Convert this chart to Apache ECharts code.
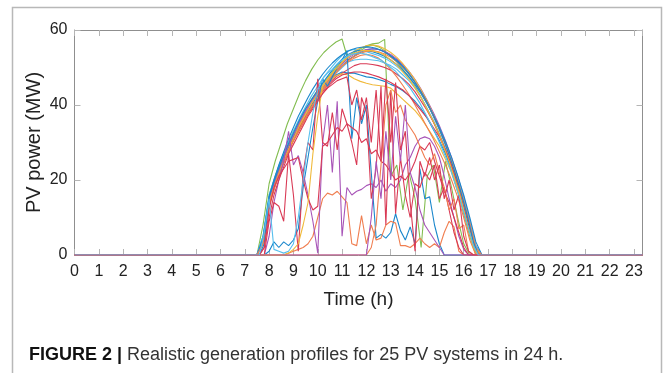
<!DOCTYPE html>
<html><head><meta charset="utf-8">
<script src="https://cdn.jsdelivr.net/npm/echarts@6/dist/echarts.min.js"></script>
<style>html,body{margin:0;padding:0;background:#fff}#c{width:663px;height:373px}</style>
</head><body><div id="c"></div>
<script>
// ---- time grids (h) ----
const hoursSmooth = [0, 7.5, 7.75, 8, 8.25, 8.5, 8.75, 9, 9.25, 9.5, 9.75, 10, 10.25, 10.5, 10.75, 11, 11.25, 11.5, 11.75, 12, 12.25, 12.5, 12.75, 13, 13.25, 13.5, 13.75, 14, 14.25, 14.5, 14.75, 15, 15.25, 15.5, 15.75, 16, 16.25, 16.5, 16.75, 23.35];
const hoursNoisy = [0, 7.6, 7.8, 8.0, 8.2, 8.4, 8.6, 8.8, 9.0, 9.2, 9.4, 9.6, 9.8, 10.0, 10.2, 10.4, 10.6, 10.8, 11.0, 11.2, 11.4, 11.6, 11.8, 12.0, 12.2, 12.4, 12.6, 12.8, 13.0, 13.2, 13.4, 13.6, 13.8, 14.0, 14.2, 14.4, 14.6, 14.8, 15.0, 15.2, 15.4, 15.6, 15.8, 16.0, 16.2, 16.4, 16.6, 23.35];
const hourTicks = [0,1,2,3,4,5,6,7,8,9,10,11,12,13,14,15,16,17,18,19,20,21,22,23];
const powerTicks = [0, 20, 40, 60];

// ---- PV power profiles (MW), smooth grid ----
const pv01 = [0,0,8,19,25,30,35,39,43,46.5, 49.5,52,54,55.5,56.8,57.6,52,53,54.5,55.5, 56,55.5,54.5,53,51.5,49.5,47.5,45,42,39, 35.5,32,27.5,22.5,17,11,5,0,0,0];
const pv02 = [0,0,4,16,21,25.5,29.5,33,36,39, 41.5,44,46,48,50,51.5,53,54,55,55.8, 56.3,56.5,57.5,21,24,12,22,15,2,21, 24,14,25,18,10,3,0,0,0,0];
const pv03 = [0,0,5,15,20,24.5,28.5,32,35,38, 40.5,43,45,47,49,50.5,52,53,54,54.7, 55,54.8,54.2,53.2,52,50.5,48.5,46.2,43.5,40.5, 37,33.5,29.5,25,20,14.5,8.5,2,0,0];
const pv04 = [0,0,3,14,19.5,24,28,31.5,34.5,37.5, 40,42.5,44.5,46.5,48.5,50,51.5,52,52.2,52.2, 52,51.8,51.2,50.5,49.5,48,46.5,44.5,42,39, 36,32.5,28.5,24,19,13.5,7.5,1.5,0,0];
const pv05 = [0,0,4,14.5,19.5,24,28,31.5,34.5,37.5, 40,42.5,44.5,46.5,48,48.8,48.5,48.5,48,47.5, 47.3,46.8,46.3,45.5,44.8,43.8,42.5,41,39,36.5, 33.5,30.5,27,23,18.5,13.5,8,2,0,0];
const pv06 = [0,0,4,14,19,23.5,27.5,31,34,37, 39.5,42,44,46,47.5,48.5,49.5,50.5,51,51, 50.8,50.5,50,49.3,48.2,47,45.5,43.5,41,38.5, 35.5,32,28,23.5,18.5,13,7,1,0,0];
const pv07 = [0,0,3,13,18.5,23,27,30.5,33.5,36.5, 39.5,42,44.5,46.5,47.8,48.3,48,47,46.3,45.8, 45.4,45.2,45,44.5,43,41.5,40,38.5,36.5,34, 31.5,29,25.5,22,17,12,6,0.5,0,0];
const pv08 = [0,0,4,15,20,24.5,28.5,32,35,38, 40.5,43,45,47,49,50.5,51.5,52.5,53.2,53.5, 53.2,52.5,51.2,49.5,47.5,45.2,42.8,40,37,34, 31,27.5,24,20,15.5,10,4,0,0,0];
const pv09 = [0,0,4,15,20,24.5,28.5,32,35.5,38.5, 41,43.5,45.5,47.5,49.5,51,52.5,53.5,54.3,54.8, 55,54.8,54.3,53.5,52.3,50.8,49,46.8,44.2,41.2, 38,34.5,30.5,26,21,15.5,9,2.5,0,0];
const pv10 = [0,0,3.5,13.5,18.5,23,27,30.5,33.5,36.5, 39,41.5,43.5,45.5,47,48,48.5,48.8,48.8,48.5, 48,47.5,46.8,46,45,44,42.5,40.5,38.5,36.5, 34,31.5,28,24,19,13,7,1,0,0];
const pv11 = [0,0,5,16,21,25.5,29.5,33,36.5,39.5, 42.5,45,47.5,49.5,51.5,53.2,54.5,54.8,54.6,54.2, 53.7,53.2,52.5,51.5,50.3,49,47.3,45.3,43,40.3, 37.3,34,30,25.5,20.5,15,9,2.5,0,0];
const pv12 = [0,0,3,14,19,23.5,27.5,31,34.5,37.5, 40.5,43,45.5,47.5,49.5,51.3,53,54.3,55.2,55.8, 56,55.7,55,54,52.7,51,49,46.7,44,41, 37.5,33.5,29.5,25,20,14,8,1.5,0,0];
const pv13 = [0,0,4.5,15.5,20.5,25,29,32.5,36,39, 41.5,44,46.3,48.5,50.5,52.2,53.5,54.3,54.6,54.5, 54.2,53.7,53,52,50.8,49.3,47.5,45.5,43,40.3, 37.3,34,30.2,26,21.2,16,10,3.5,0,0];
const pv14 = [0,0,3,13.5,18.5,23,27,30.5,33.5,36.5, 39.5,42,44.5,46.5,48.5,50.3,51.8,53,53.8,54.3, 54.5,54.2,53.6,52.7,51.5,50,48.2,46,43.5,40.5, 37.2,33.5,29.5,25,20,14.5,8.5,2,0,0];

// ---- PV power profiles (MW), noisy grid ----
const pv15 = [0,0,3,15.5,20,24,27.5,31, 34,37,39.5,42,44.3,46.3,48.2,49.8, 51.2,52.4,53.4,54.2,54.8,55.2,55.4,55.5, 55.4,55.1,54.6,53.9,53,52,50.8,49.4, 47.8,46,44,41.8,39.3,36.6,33.6,30.3, 26.7,22.8,18.6,14,9,3.5,0,0];
const pv16 = [0,0,0,1,3.5,2,3.5,2.5, 4,7,18,26,34,41,47,45, 47.5,50,52,54.5,31,42,35,40, 22,4.5,5.5,4.5,6,11,6.5,4, 7.5,3,23,15,15.5,8,3,0, 0,0,0,0,0,0,0,0];
const pv17 = [0,0,0,0,0,0,0,0.5, 1,1.5,2,3,5,10,15,16.5, 16,17,15.5,14,3,2.5,10.5,3, 8,4,4.5,8,9,8.5,2.5,2.5, 2,3,4.5,3,2,3,2,6, 9,7.5,1,0,0,0,0,0];
const pv18 = [0,0,0,5,14,20,25,33, 24,26.5,22,16,9,0.5,30,40, 22,41,5,18,16,17,17.5,18.5, 19,18,20,17,19,18,20,24, 26,29,31,31.5,31,29,26,21, 15,10,5,1.5,0,0,0,0];
const pv19 = [0,0,0,9,14,13,9,27, 16,1,22,30,28,47,30,29, 38,28,39,35,30,24,42,38, 15,23,45,8,44,11,26,16, 10,19,18,22,20,24,15,18, 12,6,2,0,0,0,0,0];
const pv20 = [0,0,2,12,18,21,23,25, 25.5,26,20,15,12,13,29,30, 32,34,33,35,34,33,30,31, 27,28,25,24,22,20,21,20, 22,25,29,28,30,25,21,17, 14,10,6,2,0,0,0,0];
const pv21 = [0,0,0,0,0,0,0,0, 0,0,0,0,0,0,0,0, 0,0,0,0,0,0,0,0, 2,8,24,40,44,38,40,36, 34,32,29,26,24,27,22,18, 12,15,7,8,1,0,0,0];
const pv22 = [0,0,0,0,0,0,0,0.5, 1.5,3,8,14,27,37,45,47, 48.5,50,51.5,52.5,53.5,54,54.5,54.5, 54.5,54.2,53.8,53,52,51,49.5,48, 46.5,44.5,42.5,40,37.5,35,32,28.5, 25,21,17,12,7,2,0,0];
const pv23 = [0,0,0,0,0,0,0,0, 0,0,0,0,0,0,0,0, 0,0,0,0,0,0,0,0, 10,25,15,33,20,37,25,40, 22,18,12,8,6,4,2,0, 0,0,0,0,0,0,0,0];
const pv24 = [0,0,2,10,16,20,23.5,27, 29.5,32,34.5,37,39,41,43,44.5, 45.5,46.5,47,47.5,40,44,36,42, 30,44,25,47,30,46,28,33, 14,1,25,21,26,20,24,15, 20,12,16,5,1,0,0,0];
const pv25 = [0,0,6,15,1.5,1,0.5,1, 3,10,20,30,38,44,47,48.5, 49.5,51,52,53,53.5,53.8,53.8,53.5, 53,52.5,52,51,50,49,47.5,46, 44.5,42.5,40.5,38,35.5,33,30,27, 24,20,16,11.5,7,2.5,0,0];

const profiles = [pv01,pv02,pv03,pv04,pv05,pv06,pv07,pv08,pv09,pv10,pv11,pv12,pv13,pv14,pv15,pv16,pv17,pv18,pv19,pv20,pv21,pv22,pv23,pv24,pv25];
const profileHours = profiles.map((p, i) => i < 14 ? hoursSmooth : hoursNoisy);

// ---- styles ----
const palette = ['#1b87cc', '#f07e50', '#f0b93a', '#a855b8', '#82bd50', '#56bfee', '#d93a55'];
const colorIdx = [4,4,0,5,0,6,2,1,3,6,5,2,0,1, 0,0,1,3,6,6,1,2,3,6,5];

const FONT = "'Liberation Sans', Arial, sans-serif";
const chart = echarts.init(document.getElementById('c'), null, {renderer: 'canvas'});

const series = profiles.map((vals, i) => ({
  type: 'line',
  xAxisIndex: 0, yAxisIndex: 0,
  data: profileHours[i].map((h, k) => [h, vals[k]]),
  showSymbol: false,
  symbol: 'none',
  lineStyle: {width: 1.1, color: palette[colorIdx[i]]},
  itemStyle: {color: palette[colorIdx[i]]},
  silent: true,
  animation: false
}));

const frame = '#8f8f8f';
const tickCol = '#b5b5b5';
const xMin = 0, xMax = 23.35;

chart.setOption({
  animation: false,
  grid: {left: 74.5, right: 20.5, top: 30, bottom: 118, containLabel: false},
  xAxis: [{
    type: 'value', min: xMin, max: xMax, interval: 1, position: 'bottom',
    name: 'Time (h)', nameLocation: 'middle', nameGap: 35, nameMoveOverlap: false,
    nameTextStyle: {fontFamily: FONT, fontSize: 19, color: '#222'},
    axisLine: {show: true, onZero: false, lineStyle: {color: frame, width: 1}},
    axisTick: {show: true, inside: true, length: 6, lineStyle: {color: tickCol}},
    axisLabel: {show: true, margin: 9, fontFamily: FONT, fontSize: 16, color: '#222', showMaxLabel: false,
      formatter: v => hourTicks.includes(v) ? String(v) : ''},
    splitLine: {show: false}
  }, {
    type: 'value', min: xMin, max: xMax, interval: 1, position: 'top',
    axisLine: {show: true, onZero: false, lineStyle: {color: frame, width: 1}},
    axisTick: {show: true, inside: true, length: 6, lineStyle: {color: tickCol}},
    axisLabel: {show: false}, splitLine: {show: false}
  }],
  yAxis: [{
    type: 'value', min: 0, max: 60, interval: 20, position: 'left',
    name: 'PV power (MW)', nameLocation: 'middle', nameGap: 30, nameRotate: 90, nameMoveOverlap: false,
    nameTextStyle: {fontFamily: FONT, fontSize: 20, color: '#222'},
    axisLine: {show: true, onZero: false, lineStyle: {color: frame, width: 1}},
    axisTick: {show: true, inside: true, length: 6, lineStyle: {color: tickCol}},
    axisLabel: {show: true, margin: 7, fontFamily: FONT, fontSize: 16, color: '#222',
      formatter: v => powerTicks.includes(v) ? String(v) : ''},
    splitLine: {show: false}
  }, {
    type: 'value', min: 0, max: 60, interval: 20, position: 'right',
    axisLine: {show: true, onZero: false, lineStyle: {color: frame, width: 1}},
    axisTick: {show: true, inside: true, length: 6, lineStyle: {color: tickCol}},
    axisLabel: {show: false}, splitLine: {show: false}
  }],
  series: series,
  graphic: [
    {type: 'rect', silent: true, z: -1, shape: {x: 12.5, y: 7.5, width: 649, height: 400},
     style: {fill: 'none', stroke: '#b8b8b8', lineWidth: 1.5}},
    {type: 'text', left: 29, top: 346, silent: true,
     style: {
       text: '{b|FIGURE 2\u00a0|\u00a0}{n|Realistic generation profiles for 25 PV systems in 24 h.}',
       rich: {
         b: {fontFamily: FONT, fontWeight: 'bold', fontSize: 18, fill: '#111'},
         n: {fontFamily: FONT, fontSize: 18, fill: '#333'}
       }
     }}
  ]
});
</script>
</body></html>
